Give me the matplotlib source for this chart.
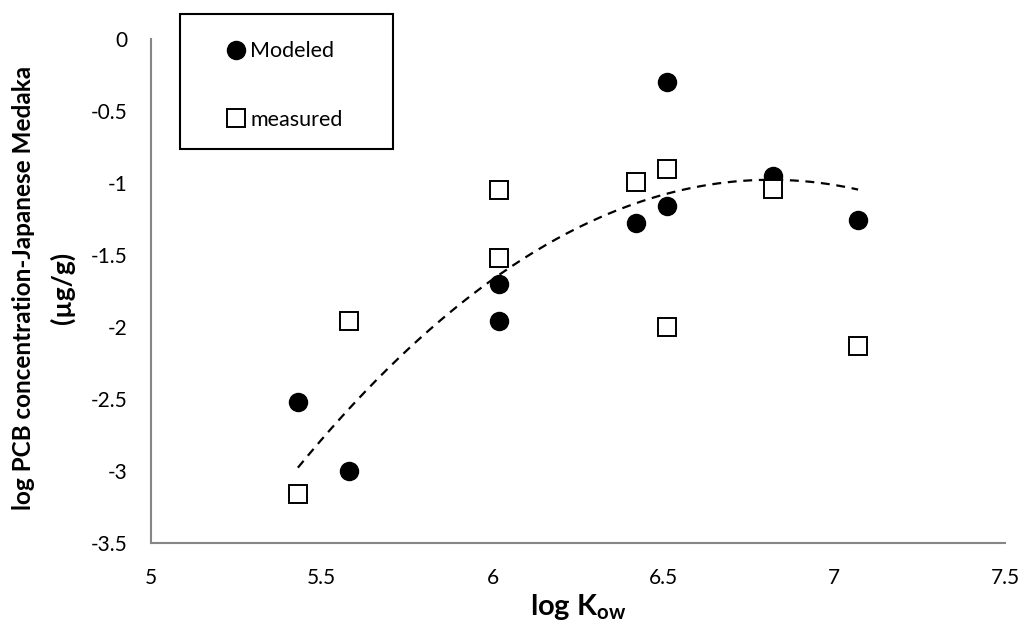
import numpy as np
import matplotlib
matplotlib.use("Agg")
from matplotlib import pyplot as plt
from matplotlib.patches import Rectangle

plt.rcParams["font.family"] = ["Lato", "DejaVu Sans"]
plt.rcParams["mathtext.fontset"] = "custom"
plt.rcParams["mathtext.rm"] = "Lato"
plt.rcParams["mathtext.bf"] = "Lato:bold"

# log Kow of each congener
log_kow = [5.43, 5.58, 6.02, 6.02, 6.42, 6.51, 6.51, 6.82, 7.07]
# log PCB concentration (ug/g)
modeled = [-2.52, -3.00, -1.70, -1.96, -1.28, -0.30, -1.16, -0.95, -1.26]
measured = [-3.16, -1.96, -1.05, -1.52, -0.99, -0.90, -2.00, -1.04, -2.13]

x_ticks = [5, 5.5, 6, 6.5, 7, 7.5]
y_ticks = [0, -0.5, -1, -1.5, -2, -2.5, -3, -3.5]

fig = plt.figure(figsize=(10.25, 6.3), dpi=100)
ax = fig.add_axes([151 / 1025, 1 - 543 / 630, (1005 - 151) / 1025, (543 - 39) / 630])

# polynomial trendline (order 2) of modeled values, like excel
coef = np.polyfit(log_kow, modeled, 2)
xs = np.linspace(min(log_kow), max(log_kow), 200)
ax.plot(xs, np.polyval(coef, xs), color="black", linestyle=(0, (4, 3)), linewidth=1.6, zorder=2)

ax.plot(log_kow, modeled, "o", color="black", markersize=13, linestyle="none", zorder=3, label="Modeled")
ax.plot(log_kow, measured, "s", markerfacecolor="white", markeredgecolor="black", markeredgewidth=1.4,
        markersize=12.5, linestyle="none", zorder=4, label="measured")

ax.set_xlim(5, 7.5)
ax.set_ylim(-3.5, 0)
ax.set_xticks(x_ticks)
ax.set_xticklabels([f"{t:g}" for t in x_ticks])
ax.set_yticks(y_ticks)
ax.set_yticklabels([f"{t:g}" for t in y_ticks])
ax.tick_params(length=0, labelsize=15, colors="black")
ax.tick_params(axis="x", pad=18)
ax.tick_params(axis="y", pad=17)
for s in ["top", "right"]:
    ax.spines[s].set_visible(False)
for s in ["left", "bottom"]:
    ax.spines[s].set_color("#868686")
    ax.spines[s].set_linewidth(1.5)

ax.set_xlabel(r"log K$_\mathbf{ow}$", fontsize=21, fontweight="bold", labelpad=3)

fig.text(24 / 1025, 1 - 288 / 630, "log PCB concentration-Japanese Medaka", rotation=90,
         fontsize=17.5, fontweight="bold", ha="center", va="center")
fig.text(62 / 1025, 1 - 288 / 630, "(µg/g)", rotation=90,
         fontsize=19, fontweight="bold", ha="center", va="center")

# legend box
fig.patches.append(Rectangle((180 / 1025, 1 - 149 / 630), 213 / 1025, 135 / 630,
                             transform=fig.transFigure, facecolor="white", edgecolor="black", linewidth=1.5))
fig.legend(loc="upper left", bbox_to_anchor=(207 / 1025, 1 - 22 / 630), frameon=False, fontsize=15.5,
           labelspacing=2.25, handlelength=0.9, handletextpad=0.2, markerscale=1.0)

plt.savefig("out.png", dpi=100)
